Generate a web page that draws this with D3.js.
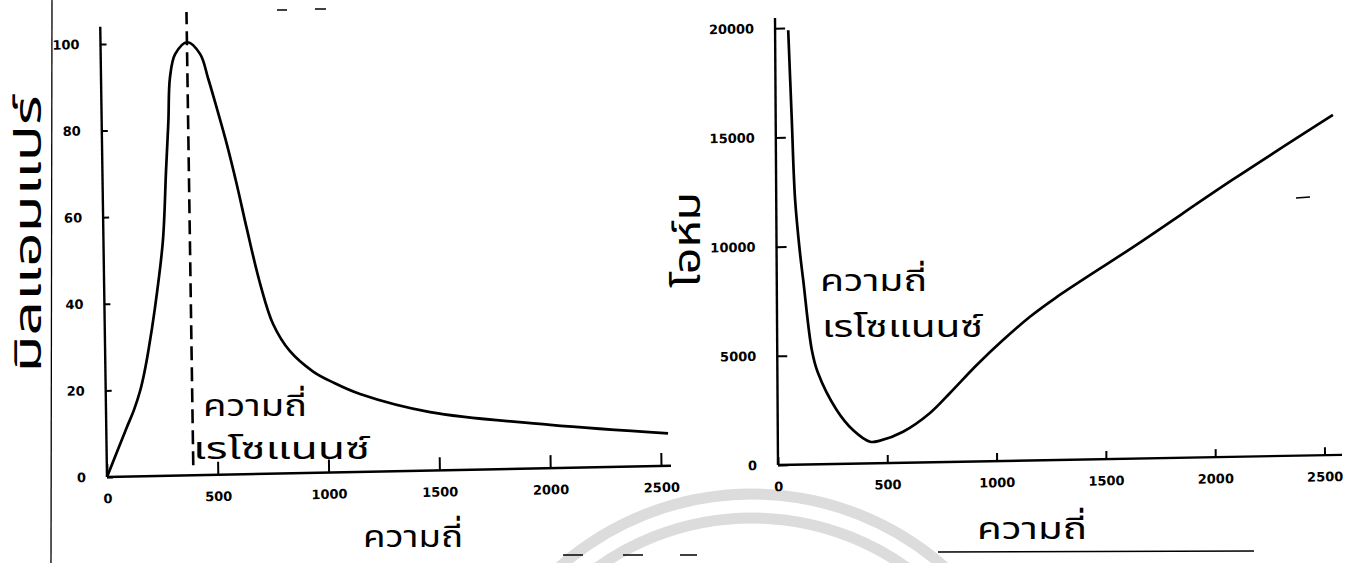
<!DOCTYPE html>
<html><head><meta charset="utf-8">
<script src="https://cdn.jsdelivr.net/npm/d3@7"></script>
<style>body{margin:0;background:#fff}svg{display:block}</style>
</head><body>
<svg id="c" width="1360" height="563"></svg>
<script>
// ---- data ----
const freqI = [0, 92, 125, 155, 175, 195, 228, 268, 287, 301, 311, 336, 392, 449, 483, 520, 563, 605, 647, 704, 760, 834, 937, 1026, 1147, 1462, 2003, 2534];
const currentMA = [0, 11.3, 15.2, 19.7, 23.8, 28.9, 38.9, 54.2, 70.4, 81.9, 91.9, 97.3, 100, 97.2, 91.6, 84.7, 76.3, 67, 56.8, 43.9, 34.5, 28.2, 23.4, 20.8, 18, 13.5, 10, 7.5];
const freqZ = [60, 73, 86, 107, 121, 158, 185, 270, 344, 422, 467, 573, 697, 789, 912, 1033, 1157, 1272, 1648, 2090, 2549];
const impedance = [19900, 16000, 12200, 9700, 8450, 5250, 4200, 2470, 1540, 990, 1030, 1420, 2257, 3156, 4415, 5537, 6581, 7406, 9800, 12700, 15571];
const resonanceFreq = 390;
const xTicksL = [0, 500, 1000, 1500, 2000, 2500];
const yTicksL = [0, 20, 40, 60, 80, 100];
const xTicksR = [0, 500, 1000, 1500, 2000, 2500];
const yTicksR = [0, 5000, 10000, 15000, 20000];
const yTitleL = "มิลแอมแปร์";
const yTitleR = "โอห์ม";
const xTitle = "ความถี่";
const resLabel1 = "ความถี่";
const resLabel2 = "เรโซแนนซ์";

const THAI = "'Noto Sans Thai','Loma','Garuda','Norasi','Tlwg Typo','Noto Sans',sans-serif";
const NUMF = "'DejaVu Sans',sans-serif";

const svg = d3.select('#c');

// watermark arcs
[290, 266].forEach(r => svg.append('circle').attr('cx', 752).attr('cy', 784).attr('r', r)
  .attr('fill', 'none').attr('stroke', '#dcdcdc').attr('stroke-width', 11));

// scan border line
svg.append('line').attr('x1', 52).attr('y1', 0).attr('x2', 51).attr('y2', 563).attr('stroke', '#000').attr('stroke-width', 1.3);

// scan marks (short dashes)
[[277, 10, 287, 10], [315, 9, 326, 9], [563, 555, 583, 555], [623, 555, 643, 555], [680, 555, 697, 555], [1296, 198, 1310, 197]]
  .forEach(s => svg.append('line').attr('x1', s[0]).attr('y1', s[1]).attr('x2', s[2]).attr('y2', s[3]).attr('stroke', '#000').attr('stroke-width', 1.5));

function styleAxis(g) {
  g.select('.domain').remove();
  g.selectAll('.tick line').attr('stroke', '#000').attr('stroke-width', 2);
  g.selectAll('.tick text').attr('fill', '#000').attr('font-family', NUMF).attr('font-weight', 'bold').attr('font-size', 13);
}
const fmt = d3.format('d');
const smooth = d3.curveCatmullRom.alpha(0.5);

// ---- left panel ----
const gL = svg.append('g').attr('transform', 'matrix(1,-0.02,0.015,1,107,477)');
const xL = d3.scaleLinear().domain([0, 2500]).range([0, 554]);
const yL = d3.scaleLinear().domain([0, 100]).range([0, -433]);

gL.append('line').attr('x1', 0).attr('y1', yL(0)).attr('x2', xL(2545)).attr('y2', yL(0)).attr('stroke', '#000').attr('stroke-width', 2.4);
gL.append('line').attr('x1', 0).attr('y1', yL(0)).attr('x2', 0).attr('y2', yL(104)).attr('stroke', '#000').attr('stroke-width', 2.4);
gL.append('g').call(d3.axisBottom(xL).tickValues(xTicksL).tickFormat(fmt).tickSize(-13).tickPadding(17).tickSizeOuter(0)).call(styleAxis);
gL.append('g').call(d3.axisLeft(yL).tickValues(yTicksL).tickFormat(fmt).tickSize(-6).tickPadding(21).tickSizeOuter(0)).call(styleAxis);

gL.append('line').attr('x1', xL(resonanceFreq)).attr('x2', xL(resonanceFreq)).attr('y1', yL(2.3)).attr('y2', yL(107))
  .attr('stroke', '#000').attr('stroke-width', 2.6).attr('stroke-dasharray', '14,7');

const lineL = d3.line().x((d, i) => xL(freqI[i])).y((d, i) => yL(currentMA[i])).curve(smooth);
gL.append('path').attr('d', lineL(freqI)).attr('fill', 'none').attr('stroke', '#000').attr('stroke-width', 2.7);

// ---- right panel ----
const gR = svg.append('g').attr('transform', 'matrix(1,-0.018,0.0067,1,778,465)');
const xR = d3.scaleLinear().domain([0, 2500]).range([0, 546.5]);
const yR = d3.scaleLinear().domain([0, 20000]).range([0, -436.7]);

gR.append('line').attr('x1', 0).attr('y1', 0).attr('x2', xR(2580)).attr('y2', 0).attr('stroke', '#000').attr('stroke-width', 2.4);
gR.append('line').attr('x1', 0).attr('y1', 0).attr('x2', 0).attr('y2', yR(20470)).attr('stroke', '#000').attr('stroke-width', 2.4);
gR.append('g').call(d3.axisBottom(xR).tickValues(xTicksR).tickFormat(fmt).tickSize(-8).tickPadding(17).tickSizeOuter(0)).call(styleAxis);
gR.append('g').call(d3.axisLeft(yR).tickValues(yTicksR).tickFormat(fmt).tickSize(-10).tickPadding(21).tickSizeOuter(0)).call(styleAxis);

const lineR = d3.line().x((d, i) => xR(freqZ[i])).y((d, i) => yR(impedance[i])).curve(smooth);
gR.append('path').attr('d', lineR(freqZ)).attr('fill', 'none').attr('stroke', '#000').attr('stroke-width', 2.7);

// ---- texts ----
function thai(x, y, str, size, len, rot) {
  const t = svg.append('text').attr('font-family', THAI).attr('font-size', size).attr('fill', '#000').text(str);
  if (rot) {
    t.attr('transform', `translate(${x},${y}) rotate(-90)`).attr('text-anchor', 'middle');
  } else {
    t.attr('x', x).attr('y', y);
  }
  if (len) t.attr('textLength', len).attr('lengthAdjust', 'spacingAndGlyphs');
  return t;
}
thai(41, 234, yTitleL, 38, 277, true);
thai(700, 240, yTitleR, 38, 96, true);
thai(203, 416, resLabel1, 30, 104);
thai(193, 459, resLabel2, 30, 177);
thai(820, 291, resLabel1, 30, 107);
thai(822, 337, resLabel2, 30, 161);
thai(363, 547, xTitle, 31, 100);
thai(977, 539, xTitle, 31, 110);

// underline under right x title
svg.append('line').attr('x1', 938).attr('y1', 552).attr('x2', 1254).attr('y2', 551).attr('stroke', '#000').attr('stroke-width', 1.3);
</script>
</body></html>
